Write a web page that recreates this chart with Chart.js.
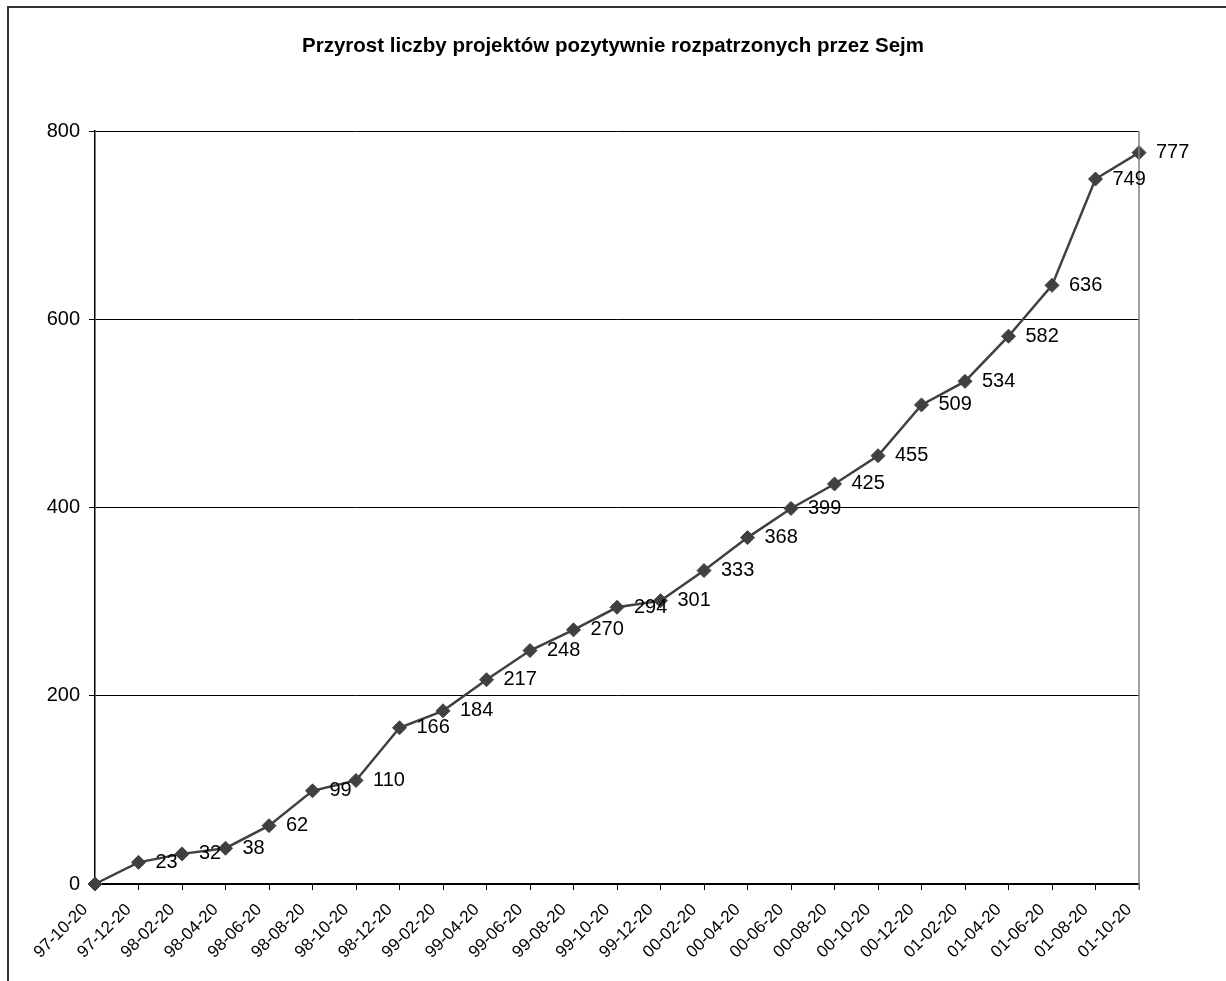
<!DOCTYPE html>
<html>
<head>
<meta charset="utf-8">
<script src="https://cdn.jsdelivr.net/npm/chart.js@4"></script>
<style>
  html, body { margin: 0; padding: 0; background: #fff; }
  body { width: 1226px; height: 981px; overflow: hidden; position: relative; }
  #frame {
    position: absolute; left: 7px; top: 6px; width: 1300px; height: 1100px;
    border-left: 2px solid #333; border-top: 2px solid #333;
  }
  #wrap { position: absolute; left: 0; top: 0; width: 1226px; height: 981px; }
</style>
</head>
<body>
<div id="frame"></div>
<div id="wrap"><canvas id="c" width="1226" height="981"></canvas></div>
<script>
// Dates of each count (YY-MM-DD)
const categories = [
  '97-10-20', '97-12-20', '98-02-20', '98-04-20', '98-06-20', '98-08-20', '98-10-20',
  '98-12-20', '99-02-20', '99-04-20', '99-06-20', '99-08-20', '99-10-20', '99-12-20',
  '00-02-20', '00-04-20', '00-06-20', '00-08-20', '00-10-20', '00-12-20', '01-02-20',
  '01-04-20', '01-06-20', '01-08-20', '01-10-20'
];
// Cumulative number of bills passed
const projectCounts = [
  0, 23, 32, 38, 62, 99, 110, 166, 184, 217, 248, 270, 294, 301,
  333, 368, 399, 425, 455, 509, 534, 582, 636, 749, 777
];
const yTicks = [0, 200, 400, 600, 800];
const titleText = 'Przyrost liczby projektów pozytywnie rozpatrzonych przez Sejm';

const FONT = 'Arial, "Liberation Sans", sans-serif';
const INK = '#404040';

// Title, right plot border, slanted date labels and value labels
const decorations = {
  id: 'decorations',
  afterDatasetsDraw(chart) {
    const { ctx, chartArea } = chart;
    const xScale = chart.scales.x;
    ctx.save();
    // right border of the plot area
    ctx.strokeStyle = '#808080';
    ctx.lineWidth = 1.5;
    ctx.beginPath();
    ctx.moveTo(chartArea.right, chartArea.top);
    ctx.lineTo(chartArea.right, chartArea.bottom + 6);
    ctx.stroke();

    // title
    ctx.fillStyle = '#000';
    ctx.font = 'bold 20.5px ' + FONT;
    ctx.textAlign = 'center';
    ctx.textBaseline = 'middle';
    ctx.fillText(titleText, 613, 46);

    // date labels, rotated 45 degrees, ending below and left of each tick
    ctx.font = '17px ' + FONT;
    ctx.textAlign = 'right';
    ctx.textBaseline = 'middle';
    categories.forEach((lab, i) => {
      const x = xScale.getPixelForTick(i);
      ctx.save();
      ctx.translate(x - 10, chartArea.bottom + 23);
      ctx.rotate(-Math.PI / 4);
      ctx.fillText(lab, 0, 0);
      ctx.restore();
    });

    // value labels right of each point (the starting zero is left unlabelled)
    const meta = chart.getDatasetMeta(0);
    ctx.font = '20px ' + FONT;
    ctx.textAlign = 'left';
    ctx.textBaseline = 'middle';
    meta.data.forEach((pt, i) => {
      if (i === 0) return;
      ctx.fillText(String(projectCounts[i]), pt.x + 17, pt.y);
    });
    ctx.restore();
  }
};

new Chart(document.getElementById('c'), {
  type: 'line',
  data: {
    labels: categories,
    datasets: [{
      data: projectCounts,
      borderColor: INK,
      backgroundColor: INK,
      borderWidth: 2.5,
      pointStyle: 'rectRot',
      pointRadius: 7,
      pointHoverRadius: 7,
      pointBackgroundColor: INK,
      pointBorderColor: INK,
      pointBorderWidth: 1,
      tension: 0,
      clip: false
    }]
  },
  options: {
    responsive: false,
    animation: false,
    events: [],
    layout: { padding: { top: 131, right: 87, left: 0, bottom: 0 } },
    plugins: { legend: { display: false }, title: { display: false }, tooltip: { enabled: false } },
    scales: {
      x: {
        offset: false,
        grid: { display: true, drawOnChartArea: false, drawTicks: true, tickLength: 6, color: '#000', lineWidth: 1 },
        border: { display: true, color: '#000', width: 1.5 },
        ticks: { display: false, autoSkip: false },
        afterFit(scale) { scale.height = 97; }
      },
      y: {
        min: 0, max: 800,
        afterBuildTicks(scale) { scale.ticks = yTicks.map(v => ({ value: v })); },
        grid: { color: '#000', lineWidth: 1, drawTicks: true, tickLength: 6 },
        border: { display: true, color: '#000', width: 1.5 },
        ticks: { color: '#000', padding: 9, font: { family: FONT, size: 20 } },
        afterFit(scale) { scale.width = 95; }
      }
    }
  },
  plugins: [decorations]
});
</script>
</body>
</html>
